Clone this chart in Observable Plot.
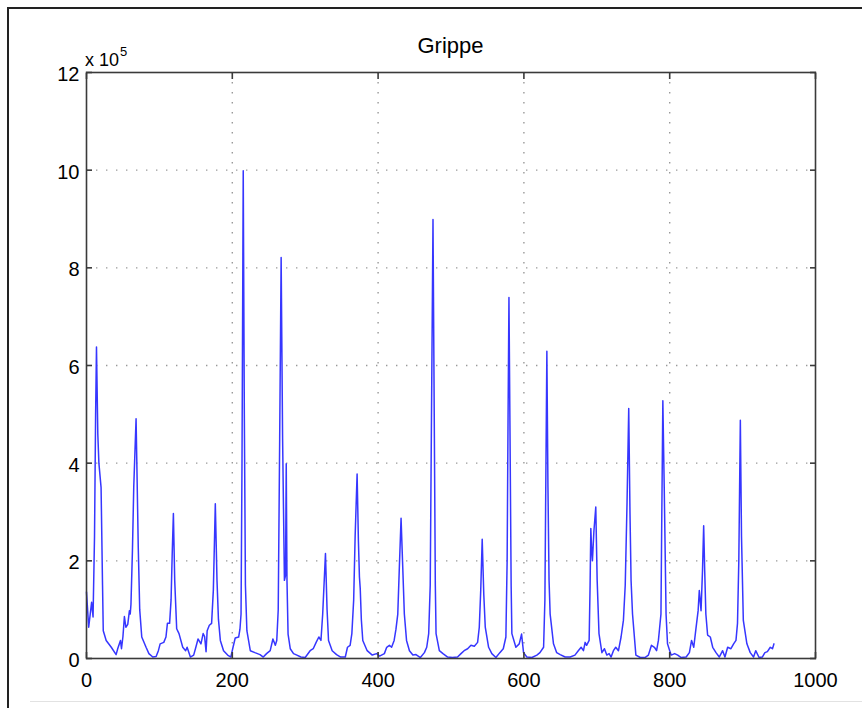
<!DOCTYPE html>
<html>
<head>
<meta charset="utf-8">
<script src="https://cdn.jsdelivr.net/npm/d3@7"></script>
<script src="https://cdn.jsdelivr.net/npm/@observablehq/plot@0.6"></script>
<style>
  body { margin: 0; background: #fff; font-family: "Liberation Sans", Arial, Helvetica, sans-serif; }
  #page { position: relative; width: 862px; height: 708px; overflow: hidden; background: #fff; }
  #border { position: absolute; left: 7px; top: 7px; width: 900px; height: 760px; border-left: 2px solid #222; border-top: 2px solid #222; }
  #bottomline { position: absolute; left: 30px; top: 701px; width: 840px; height: 0; border-top: 1px solid #e2e2e2; }
  #chart { position: absolute; left: 0; top: 0; }
  #title { position: absolute; left: 340px; width: 221px; top: 35px; text-align: center; font-size: 22px; line-height: 1; color: #000; }
  #expo { position: absolute; left: 85px; top: 51px; font-size: 18px; line-height: 1; color: #000; white-space: nowrap; }
  #expo sup { font-size: 13px; position: relative; top: -10px; vertical-align: baseline; margin-left: 1px; }
</style>
</head>
<body>
<div id="page">
  <div id="border"></div>
  <div id="bottomline"></div>
  <div id="chart"></div>
  <div id="title">Grippe</div>
  <div id="expo">x 10<sup>5</sup></div>
</div>
<script>
// Weekly flu cases (week index, number of cases)
const weeks = [
  0, 3, 7, 9, 11, 12.5, 13.7, 15.5, 17, 20, 22, 23, 27, 34, 40.6, 43, 46.6, 48, 50, 52, 54, 56.6, 58.9, 60, 61, 63, 64.8, 68, 69.5, 71, 73, 75.8, 81.7, 85.6, 90.9, 95.5, 98.6,
  101, 106, 109, 111, 114, 116, 117.5, 119.2, 121, 123.7, 126.9, 132, 136, 138, 142.5, 147, 150, 153, 157, 160, 162, 164, 165.5, 168.5, 171.6, 174, 176.7, 179, 181, 183.6, 188, 193.6, 198,
  201, 204, 208.7, 210.5, 212, 213.3, 215, 216.5, 218, 220, 224.7, 231, 238, 242.5, 247, 252, 255.7, 259, 261, 263, 265, 267, 269, 271.5, 273, 274, 275, 276.5, 279.5, 284, 288.6, 294,
  300, 306.8, 311, 315, 318.7, 321.6, 324, 327.8, 330, 332, 337, 343, 348.6, 355, 358, 361.6, 364, 366.5, 368.5, 371.2, 373, 374.4, 375.5, 377, 379, 385, 392, 398,
  402, 408.6, 411.8, 415.5, 418.5, 422, 424.5, 427, 429, 431.5, 433.5, 436, 439, 443, 447.7, 452, 458, 463.5, 466.7, 469.4, 471.5, 473.5, 475.3, 477, 478.5, 479.5, 484, 489, 495.4,
  502, 509, 513.7, 518, 522.8, 527.4, 532, 536.5, 538.8, 540.8, 542.8, 545, 547, 551.6, 556, 561.6, 567, 571.7, 575.3, 577, 578.3, 579.5, 581, 582.5, 583.5, 589, 593.6, 596.8, 599.5,
  604, 611, 617.8, 622, 627, 628.8, 630, 631.5, 633, 634.5, 636, 640.6, 645, 649.8, 656.6, 663.5, 670, 674.6, 678.5, 681.7, 684, 686, 689.5, 690.8, 691.8, 693, 694, 696, 698.6,
  700.5, 703, 707, 710.5, 713.7, 716.9, 719.6, 722.8, 726, 729.7, 733.3, 736.5, 739, 741.5, 743.8, 745.5, 747, 749, 753.6, 759.6, 766, 770.8, 775, 779, 782, 784.5, 786, 788, 789.2, 790.6, 792.5, 795, 797,
  800, 802, 806.8, 811, 815.7, 822.6, 827, 830, 833, 836, 839, 840.6, 843, 845, 846.6, 848, 849.6, 852, 855.7, 859, 863.5, 868, 872.6, 875.8, 879.5, 884, 887.7, 890.9, 893, 894.8, 896.9, 898.5,
  901, 905.9, 910.5, 915, 918, 922.6, 927, 930.6, 934, 938, 941, 943
];
const cases = [
  136000, 64000, 115000, 85000, 250000, 500000, 638000, 460000, 400000, 350000, 150000, 57000, 37000, 23000, 8000, 21000, 37000, 20000, 45000, 86000, 64000, 70000, 98000, 91000, 111000, 220000, 350000, 491000, 360000, 228000, 100000, 44000, 23000, 10000, 3000, 4000, 16000,
  30000, 33000, 44000, 72000, 72000, 120000, 210000, 297000, 160000, 61000, 51000, 23000, 16000, 23000, 3000, 7000, 23000, 40000, 30000, 51000, 45000, 14000, 57000, 68000, 72000, 140000, 317000, 160000, 80000, 37000, 16000, 7000, 3000,
  23000, 42000, 44000, 60000, 91000, 400000, 999000, 500000, 150000, 57000, 16000, 12000, 8000, 3000, 10000, 16000, 40000, 27000, 37000, 100000, 450000, 821000, 450000, 160000, 170000, 399000, 160000, 50000, 20000, 10000, 7000, 3000,
  2000, 16000, 20000, 33000, 44000, 37000, 91000, 215000, 100000, 37000, 16000, 8000, 3000, 3000, 23000, 27000, 51000, 120000, 250000, 378000, 240000, 167000, 143000, 80000, 37000, 16000, 7000, 10000,
  5000, 10000, 23000, 27000, 23000, 37000, 60000, 91000, 180000, 287000, 200000, 91000, 37000, 16000, 7000, 8000, 2000, 12000, 23000, 51000, 150000, 550000, 899000, 500000, 150000, 51000, 16000, 10000, 3000,
  2000, 3000, 10000, 16000, 20000, 27000, 25000, 33000, 64000, 140000, 244000, 130000, 64000, 23000, 10000, 2000, 12000, 20000, 44000, 200000, 500000, 739000, 450000, 150000, 51000, 23000, 30000, 50000, 12000,
  3000, 2000, 7000, 12000, 23000, 120000, 350000, 629000, 350000, 160000, 91000, 30000, 12000, 8000, 3000, 3000, 7000, 16000, 23000, 16000, 33000, 27000, 37000, 150000, 266000, 220000, 200000, 260000, 310000,
  160000, 51000, 12000, 20000, 7000, 10000, 3000, 16000, 23000, 16000, 44000, 78000, 150000, 320000, 512000, 300000, 160000, 91000, 7000, 2000, 2000, 7000, 27000, 23000, 16000, 37000, 60000, 91000, 300000, 528000, 350000, 91000, 30000,
  16000, 7000, 10000, 7000, 2000, 3000, 12000, 37000, 23000, 61000, 98000, 139000, 98000, 180000, 272000, 180000, 91000, 48000, 44000, 23000, 12000, 3000, 16000, 3000, 23000, 20000, 30000, 37000, 72000, 200000, 488000, 250000,
  78000, 30000, 12000, 3000, 16000, 2000, 3000, 12000, 14000, 23000, 20000, 30000
];
// Axis ticks
const xTicks = [0, 200, 400, 600, 800, 1000];
const yTicks = [0, 200000, 400000, 600000, 800000, 1000000, 1200000];
const xGrid = [200, 400, 600, 800];
const yGrid = [200000, 400000, 600000, 800000, 1000000];

const data = weeks.map((w, i) => ({week: w, cases: cases[i]}));

const axisFont = {fontSize: 20, fontFamily: "Liberation Sans, Arial, sans-serif"};

const chart = Plot.plot({
  width: 862,
  height: 708,
  marginLeft: 86,
  marginRight: 47,
  marginTop: 72,
  marginBottom: 50,
  style: {background: "transparent", fontFamily: "Liberation Sans, Arial, sans-serif", color: "#000"},
  x: {domain: [0, 1000], label: null},
  y: {domain: [0, 1200000], label: null},
  marks: [
    Plot.gridX(xGrid, {stroke: "#999", strokeOpacity: 1, strokeWidth: 1.4, strokeDasharray: "1.4,8.6"}),
    Plot.gridY(yGrid, {stroke: "#999", strokeOpacity: 1, strokeWidth: 1.4, strokeDasharray: "1.4,8.6"}),
    Plot.line(data, {x: "week", y: "cases", stroke: "#3636ff", strokeWidth: 1.5, strokeLinejoin: "round"}),
    Plot.frame({stroke: "#3a3a3a", strokeWidth: 1.6}),
    Plot.axisX(xTicks, {anchor: "bottom", tickSize: -6, fill: "none", stroke: "#3a3a3a", strokeWidth: 1.6}),
    Plot.axisX(xTicks, {anchor: "top", tickSize: -6, fill: "none", stroke: "#3a3a3a", strokeWidth: 1.6}),
    Plot.axisY(yTicks, {anchor: "left", tickSize: -6, fill: "none", stroke: "#3a3a3a", strokeWidth: 1.6}),
    Plot.axisY(yTicks, {anchor: "right", tickSize: -6, fill: "none", stroke: "#3a3a3a", strokeWidth: 1.6}),
    Plot.axisX(xTicks, {anchor: "bottom", tickSize: 0, tickPadding: 14, tickFormat: d => String(d), ...axisFont, fill: "#000"}),
    Plot.axisY(yTicks, {anchor: "left", tickSize: 0, tickPadding: 7, dy: 2, tickFormat: d => String(Math.round(d / 100000)), ...axisFont, fill: "#000"})
  ]
});
document.getElementById("chart").appendChild(chart);
</script>
</body>
</html>
